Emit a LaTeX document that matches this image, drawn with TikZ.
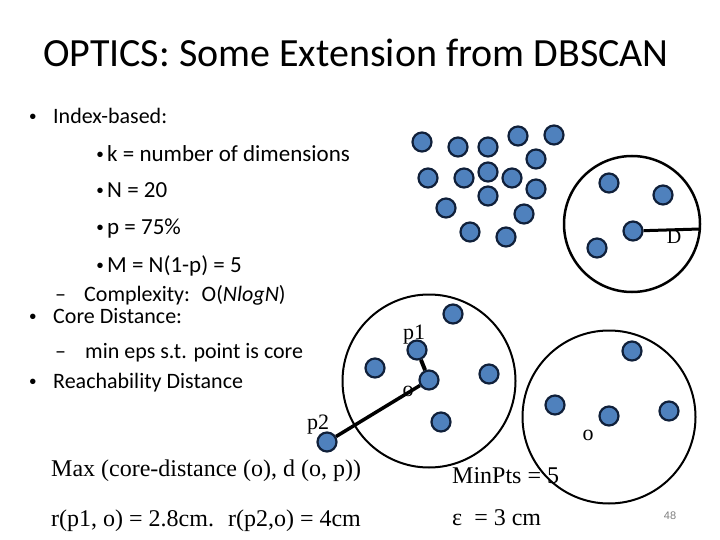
\documentclass[tikz,border=0pt]{standalone}
\usepackage{fontspec}
\setmainfont{Carlito}
\newfontfamily\timesf{Liberation Serif}
\newfontfamily\arialf{Liberation Sans}
\definecolor{dotfill}{HTML}{4F81BD}
\definecolor{dotline}{HTML}{10203A}
\begin{document}
\begin{tikzpicture}[x=1pt,y=-1pt,
  ptdot/.style={circle,draw=dotline,fill=dotfill,line width=2.2pt,minimum size=19pt,inner sep=0pt},
  ring/.style={circle,draw=black,line width=2pt,inner sep=0pt},
  txt/.style={anchor=base west,inner sep=0pt,font=\fontsize{22}{26}\selectfont},
  subtxt/.style={anchor=base west,inner sep=0pt,font=\fontsize{23}{27}\selectfont},
  bul/.style={anchor=base,inner sep=0pt,font=\arialf\fontsize{20}{24}\selectfont},
  serif/.style={anchor=base west,inner sep=0pt,font=\timesf\fontsize{24}{28}\selectfont},
  lbl/.style={inner sep=0pt,font=\timesf\fontsize{22}{26}\selectfont},
  link/.style={line width=3.5pt,draw=black}]
\useasboundingbox (0,0) rectangle (720,540);
\fill[white] (0,0) rectangle (720,540);
% title
\node[inner sep=0pt,anchor=base,font=\fontsize{40}{44}\selectfont] (title) at (356,67) {OPTICS: Some Extension from DBSCAN};
% bullets
\node[bul] (b1m) at (33,124) {•};
\node[txt] (b1) at (53,124) {Index-based:};
\node[bul] (b2m) at (100,162) {•};
\node[subtxt] (b2) at (107,162) {k = number of dimensions};
\node[bul] (b3m) at (100,198) {•};
\node[subtxt] (b3) at (107,198) {N = 20};
\node[bul] (b4m) at (100,234) {•};
\node[subtxt] (b4) at (107,234) {p = 75\%};
\node[bul] (b5m) at (100,272) {•};
\node[subtxt] (b5) at (107,272) {M = N(1-p) = 5};
\node[txt] (b6m) at (55,301) {–};
\node[txt] (b6) at (84,301) {Complexity:~ O(\textit{NlogN})};
\node[bul] (b7m) at (33,323) {•};
\node[txt] (b7) at (53,323) {Core Distance:};
\node[txt] (b8m) at (55,358) {–};
\node[txt] (b8) at (85,358) {min eps s.t. point is core};
\node[bul] (b9m) at (33,388) {•};
\node[txt] (b9) at (53,388) {Reachability Distance};
% top cluster
\foreach \n/\x/\y in {a1/422/142,a2/458/147,a3/488/147,a4/518/136,a5/554/135,a6/536/159,
  a7/428/178,a8/464/178,a9/488/172,a10/512/178,a11/536/189,a12/488/196,a13/446/208,
  a14/524/214,a15/470/232,a16/506/237}
  \node[ptdot] (\n) at (\x,\y) {};
% circle with D
\node[ring,line width=2.5pt,minimum size=136pt] (cD) at (632,224) {};
\node[ptdot] (d1) at (609,183) {};
\node[ptdot] (d2) at (663,195) {};
\node[ptdot] (d3) at (597,248) {};
\node[ptdot] (dc) at (633,231) {};
\coordinate (dend) at (700,229);
\draw[line width=3pt] (dc) -- (dend);
\node[lbl,font=\timesf\fontsize{20}{24}\selectfont] (Dl) at (674,237) {D};
% circle 1
\node[ring,minimum size=173pt] (c1) at (429,381) {};
\node[ptdot] (e1) at (453,314) {};
\node[ptdot] (p1) at (417,350) {};
\node[ptdot] (e2) at (375,368) {};
\node[ptdot] (o1) at (429,380) {};
\node[ptdot] (e3) at (489,374) {};
\node[ptdot] (e4) at (441,422) {};
\node[ptdot] (p2) at (327,442) {};
\draw[link,line width=4pt] (p1) -- (o1);
\draw[link] (o1) -- (p2);
\node[lbl] (p1l) at (414,335) {p1};
\node[lbl] (o1l) at (408,391) {o};
\node[lbl] (p2l) at (318,425) {p2};
% circle 2
\node[ring,minimum size=173pt] (c2) at (609,417) {};
\node[ptdot] (f1) at (632,351) {};
\node[ptdot] (f2) at (555,405) {};
\node[ptdot] (o2) at (609,416) {};
\node[ptdot] (f3) at (669,411) {};
\node[lbl] (o2l) at (588,435) {o};
% bottom texts
\node[serif] (t1) at (51,476) {Max (core-distance (o), d (o, p))};
\node[serif] (t2) at (51,526) {r(p1, o) = 2.8cm.~ r(p2,o) = 4cm};
\node[serif] (t3) at (452,483) {MinPts = 5};
\node[serif] (t4) at (452,525) {ε~ = 3 cm};
\node[inner sep=0pt,font=\arialf\fontsize{11}{13}\selectfont,text=gray] (pg) at (670,516) {48};
\end{tikzpicture}
\end{document}
